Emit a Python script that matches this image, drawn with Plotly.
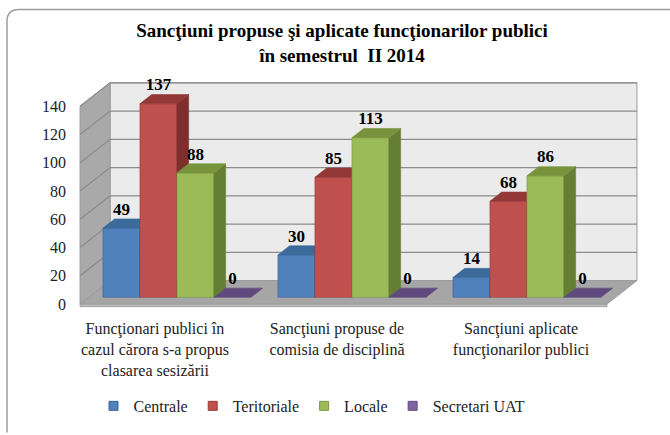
import plotly.graph_objects as go

# ---------------- data ----------------
categories = [
    "Funcţionari publici în<br>cazul cărora s-a propus<br>clasarea sesizării",
    "Sancţiuni propuse de<br>comisia de disciplină",
    "Sancţiuni aplicate<br>funcţionarilor publici",
]
series_names = ["Centrale", "Teritoriale", "Locale", "Secretari UAT"]
centrale = [49, 30, 14]
teritoriale = [137, 85, 68]
locale = [88, 113, 86]
secretari_uat = [0, 0, 0]
y_ticks = [0, 20, 40, 60, 80, 100, 120, 140]

series_values = [centrale, teritoriale, locale, secretari_uat]

# ---------------- styles ----------------
front_colors = ["#4F81BD", "#C0504D", "#9BBB59", "#8064A2"]
top_colors = ["#3C6A9A", "#933836", "#77933C", "#5F4A7D"]
side_colors = ["#345A86", "#7E2F2D", "#647F33", "#4F3D68"]
edge_colors = ["#3A6595", "#9A3D3A", "#7A9645", "#654F82"]

FONT = "Liberation Serif, Times New Roman, serif"

# geometry (oblique projection of the 3D chart), in axis units
PX_X, PX_Y = 175.0, 1.443          # pixels per x unit / per value unit
DX, DY = 30 / PX_X, 24 / PX_Y      # full depth of the floor / walls
Z0, Z1 = 0.29, 0.68                # depth occupied by the bars
W = 37 / PX_X                      # bar width
XL, XR = -0.504, 2.507             # floor extent (front plane)
VMAX = y_ticks[-1]

fig = go.Figure()


def poly(xs, ys, fill, line, width=0.6):
    fig.add_trace(go.Scatter(
        x=xs + [xs[0]], y=ys + [ys[0]], mode="lines", fill="toself",
        fillcolor=fill, line=dict(color=line, width=width),
        hoverinfo="skip", showlegend=False))


# back wall
poly([XL + DX, XR + DX, XR + DX, XL + DX], [DY, DY, VMAX + DY, VMAX + DY],
     "#EBEBEB", "#9A9A9A", 1)
# side wall
poly([XL, XL + DX, XL + DX, XL], [0, DY, VMAX + DY, VMAX],
     "#A9A9A9", "#9A9A9A", 1)

# gridlines on the back wall and on the side wall
gx, gy = [], []
for v in y_ticks[1:]:
    gx += [XL, XL + DX, XR + DX, None]
    gy += [v, v + DY, v + DY, None]
fig.add_trace(go.Scatter(x=gx, y=gy, mode="lines",
                         line=dict(color="#8C8C8C", width=1.3),
                         hoverinfo="skip", showlegend=False))

# floor slab (front edge) and floor top
poly([XL, XR, XR, XL], [-1.8, -1.8, 0, 0], "#BDBDBD", "#9A9A9A", 0.8)
poly([XL, XR, XR + DX, XL + DX], [0, 0, DY, DY], "#A6A6A6", "#9A9A9A", 0.8)

# bars: front, top, side faces drawn left to right (painter order)
b0 = Z0 * DY
sx, sy = (Z1 - Z0) * DX, (Z1 - Z0) * DY
label_pos = {j: ([], [], []) for j in range(len(series_values))}
for i in range(len(categories)):
    for j, vals in enumerate(series_values):
        v = vals[i]
        xl = i - 2 * W + j * W + Z0 * DX
        xr = xl + W
        if v > 0:
            poly([xl, xr, xr, xl], [b0, b0, v + b0, v + b0],
                 front_colors[j], edge_colors[j])
            poly([xr, xr + sx, xr + sx, xr], [b0, b0 + sy, v + b0 + sy, v + b0],
                 side_colors[j], side_colors[j])
        poly([xl, xr, xr + sx, xl + sx], [v + b0, v + b0, v + b0 + sy, v + b0 + sy],
             top_colors[j], top_colors[j])
        lx, ly, lt = label_pos[j]
        lx.append((xl + xr) / 2)
        ly.append(v + b0 + sy)
        lt.append(str(v))

# value labels
for j in range(len(series_values)):
    lx, ly, lt = label_pos[j]
    fig.add_trace(go.Scatter(
        x=lx, y=ly, text=lt, mode="text", textposition="top center",
        textfont=dict(family=FONT, size=17, color="black"),
        texttemplate="<b>%{text}</b>", cliponaxis=False,
        hoverinfo="skip", showlegend=False))

# legend entries
for j, name in enumerate(series_names):
    fig.add_trace(go.Scatter(
        x=[None], y=[None], mode="markers", name=name,
        marker=dict(symbol="square", size=9, color=front_colors[j],
                    line=dict(color=edge_colors[j], width=1))))

# ---------------- layout ----------------
WIDTH, HEIGHT = 670, 435
L, R, T, B = 75, 645, 75, 315
x_range = [(L - 168.25) / PX_X, (R - 168.25) / PX_X]
y_range = [(309 - B) / PX_Y, (309 - T) / PX_Y]
tick_shift = [-0.076, -0.036, 0.016]
tick_x = [i + tick_shift[i] for i in range(len(categories))]


def px2paper(px, py):
    return (px - L) / (R - L), (B - py) / (B - T)


def border_path(x0, y0, x1, y1, r):
    p = lambda x, y: "%.5f,%.5f" % px2paper(x, y)
    return "M %s L %s Q %s %s L %s" % (
        p(x1, y0), p(x0 + r, y0), p(x0, y0), p(x0, y0 + r), p(x0, y1))


fig.update_layout(
    width=WIDTH, height=HEIGHT, autosize=False,
    margin=dict(l=L, r=WIDTH - R, t=T, b=HEIGHT - B),
    paper_bgcolor="white", plot_bgcolor="white",
    title=dict(
        text="<b>Sancţiuni propuse şi aplicate funcţionarilor publici<br>în semestrul  II 2014</b>",
        x=px2paper(342, 0)[0], xref="paper", xanchor="center",
        yref="container", y=1 - 37 / HEIGHT, yanchor="top",
        font=dict(family=FONT, size=19, color="black")),
    xaxis=dict(range=x_range, showgrid=False, zeroline=False, showline=False,
               tickmode="array", tickvals=tick_x, ticktext=categories,
               ticks="", ticklabelstandoff=7,
               tickfont=dict(family=FONT, size=16, color="#222"),
               fixedrange=True),
    yaxis=dict(range=y_range, showgrid=False, zeroline=False, showline=False,
               tickmode="array", tickvals=y_ticks, ticks="",
               ticklabelstandoff=8,
               tickfont=dict(family=FONT, size=16, color="#222"),
               fixedrange=True),
    showlegend=True,
    legend=dict(orientation="h", x=px2paper(312, 0)[0], xanchor="center",
                y=px2paper(0, 413)[1], yanchor="middle",
                font=dict(family=FONT, size=16, color="#222"),
                itemwidth=30, tracegroupgap=0),
    shapes=[dict(type="path", xref="paper", yref="paper",
                 path=border_path(7, 8, 671, 440, 12),
                 line=dict(color="#9C9C9C", width=1.5), layer="below")],
)

fig.write_html(
    "out.html",
    config={"displayModeBar": False, "staticPlot": True},
    post_script="document.body.style.margin='0';document.body.style.overflow='hidden';",
)
